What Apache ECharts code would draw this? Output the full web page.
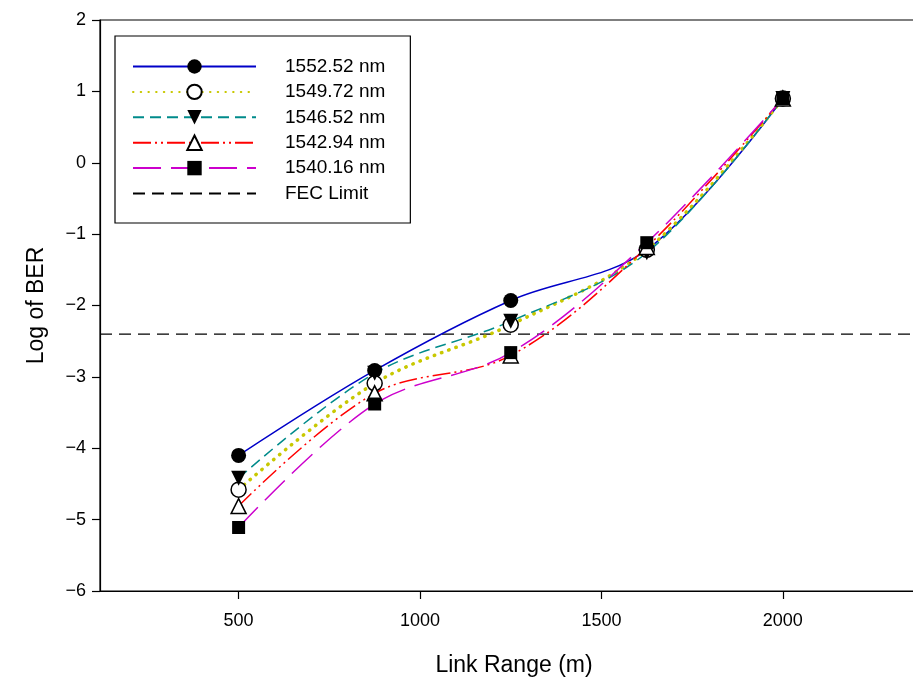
<!DOCTYPE html>
<html><head><meta charset="utf-8">
<script src="https://cdn.jsdelivr.net/npm/echarts@6/dist/echarts.min.js"></script>
<style>html,body{margin:0;padding:0;background:#fff}#c{width:913px;height:687px}</style>
</head><body><div id="c"></div>
<script>
const linkRange = [500, 875, 1250, 1625, 2000];
const ber155252 = [-4.10, -2.91, -1.93, -1.22, 0.90];
const ber154972 = [-4.58, -3.09, -2.27, -1.22, 0.90];
const ber154652 = [-4.42, -2.95, -2.22, -1.26, 0.90];
const ber154294 = [-4.81, -3.23, -2.70, -1.18, 0.90];
const ber154016 = [-5.11, -3.38, -2.66, -1.12, 0.90];
const fecLimit = -2.4;
const xMin = 118, xMax = 2400;
const xTicks = [500, 1000, 1500, 2000];
const names = ['1552.52 nm','1549.72 nm','1546.52 nm','1542.94 nm','1540.16 nm','FEC Limit'];

const font = 'Liberation Sans, Arial, sans-serif';
function pts(ys){ return linkRange.map((x,i)=>[x, ys[i]]); }
function mk(name, ys, color, width, type, symbol, size, fill, rotate){
  return {
    name, type:'line', data: pts(ys), smooth:0.35,
    symbol, symbolSize:size, symbolRotate: rotate||0,
    lineStyle:{color, width, type},
    itemStyle:{color: fill, borderColor:'#000', borderWidth: fill==='#fff'?1.5:0},
    emphasis:{disabled:true}, z: 3
  };
}
const series = [
  mk(names[0], ber155252, '#0000c8', 1.5, 'solid', 'circle', 15, '#000'),
  mk(names[1], ber154972, '#c8c800', 3.5, [0.5,7.2], 'circle', 15, '#fff'),
  mk(names[2], ber154652, '#008b8b', 1.5, [11,6], 'triangle', 15, '#000', 180),
  mk(names[3], ber154294, '#ff0000', 1.5, [18,4,2,4,2,4], 'triangle', 15, '#fff'),
  mk(names[4], ber154016, '#cc00cc', 1.5, [28,10], 'rect', 13, '#000'),
  { name: names[5], type:'line', data:[[xMin, fecLimit],[xMax, fecLimit]],
    symbol:'circle', showSymbol:false, silent:true, z:2,
    lineStyle:{color:'#000', width:1.2, type:[12,7]},
    itemStyle:{color:'rgba(0,0,0,0)', borderColor:'rgba(0,0,0,0)', borderWidth:0},
    emphasis:{disabled:true} }
];
series[1].lineStyle.cap = 'round';

const chart = echarts.init(document.getElementById('c'), null, {renderer:'canvas'});
chart.setOption({
  animation:false,
  backgroundColor:'#fff',
  grid:{left:100, top:20, width:828, height:571, outerBoundsMode:'none', containLabel:false,
    show:true, borderColor:'#000', borderWidth:1.2, backgroundColor:'transparent'},
  legend:{
    data: names,
    orient:'vertical', left:115, top:36,
    padding:[21,25,20,17], itemWidth:123, itemHeight:18, itemGap:6.4,
    backgroundColor:'#fff', borderColor:'#000', borderWidth:1.2,
    textStyle:{fontFamily:font, fontSize:19, color:'#000', padding:[0,0,0,24]},
    selectedMode:false
  },
  xAxis:{
    type:'value', min:xMin, max:xMax,
    name:'Link Range (m)', nameLocation:'middle', nameGap:63,
    nameTextStyle:{fontFamily:font, fontSize:23, color:'#000'},
    axisLine:{show:true, onZero:false, lineStyle:{color:'#000', width:1.2}},
    axisTick:{show:true, inside:false, length:8, customValues:xTicks, lineStyle:{color:'#000', width:1.2}},
    axisLabel:{show:true, customValues:xTicks, margin:21, fontFamily:font, fontSize:18, color:'#000',
      formatter:v=>String(v)},
    splitLine:{show:false}
  },
  yAxis:{
    type:'value', min:-6, max:2, interval:1,
    name:'Log of BER', nameLocation:'middle', nameGap:52,
    nameTextStyle:{fontFamily:font, fontSize:23, color:'#000'},
    axisLine:{show:true, onZero:false, lineStyle:{color:'#000', width:1.2}},
    axisTick:{show:true, inside:false, length:8, lineStyle:{color:'#000', width:1.2}},
    axisLabel:{margin:14, fontFamily:font, fontSize:18, color:'#000',
      formatter:v=>String(v).replace('-','\u2212')},
    splitLine:{show:false}
  },
  series
});
</script></body></html>
